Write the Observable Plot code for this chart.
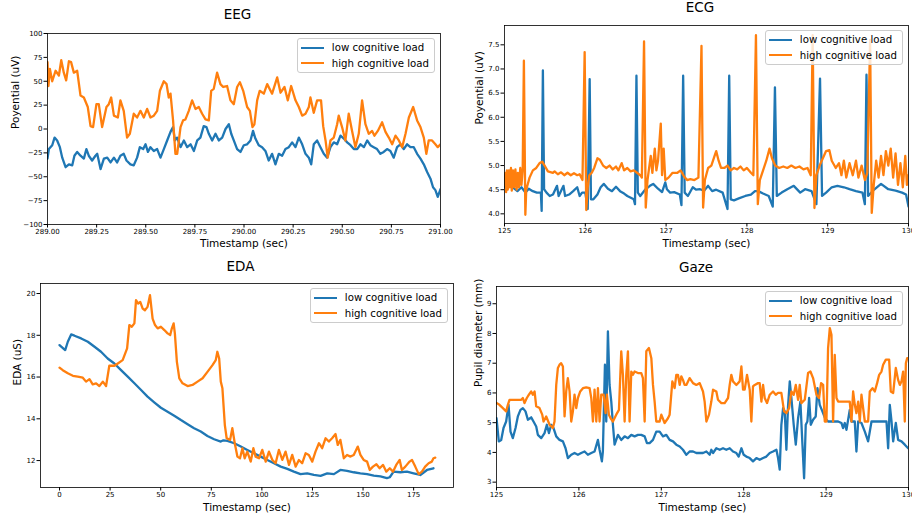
<!DOCTYPE html>
<html><head><meta charset="utf-8">
<script src="https://cdn.jsdelivr.net/npm/d3@7"></script>
<script src="https://cdn.jsdelivr.net/npm/@observablehq/plot@0.6"></script>
<style>
html,body{margin:0;padding:0;background:#fff;}
#fig{position:relative;width:912px;height:516px;overflow:hidden;background:#fff;font-family:"DejaVu Sans",sans-serif;}
.panel{position:absolute;}
.legend{position:absolute;background:rgba(255,255,255,0.8);border:1px solid #cccccc;border-radius:3px;font-size:10.2px;color:#000;padding:1px 5px 1px 3px;box-sizing:border-box;white-space:nowrap;}
.legend .row{display:flex;align-items:center;height:15.5px;}
.legend .sw{width:23px;height:2.3px;margin-right:8px;}
</style></head><body><div id="fig"></div>
<script>
const seriesNames = ["low cognitive load", "high cognitive load"];
const seriesColors = ["#1f77b4", "#ff7f0e"];

// ---------- EEG ----------
const eegXTicks = [289.00, 289.25, 289.50, 289.75, 290.00, 290.25, 290.50, 290.75, 291.00];
const eegYTicks = [-100, -75, -50, -25, 0, 25, 50, 75, 100];
const eegLow = [[289.000,-31],[289.007,-21],[289.024,-17],[289.036,-9],[289.049,-12],[289.063,-19],[289.075,-30],[289.092,-40],[289.109,-37],[289.126,-38],[289.137,-28],[289.151,-24],[289.168,-28],[289.185,-31],[289.198,-21],[289.210,-28],[289.227,-33],[289.244,-28],[289.253,-26],[289.270,-42],[289.287,-31],[289.304,-30],[289.321,-35],[289.338,-30],[289.354,-35],[289.371,-28],[289.388,-26],[289.402,-33],[289.422,-37],[289.439,-38],[289.456,-30],[289.470,-19],[289.487,-21],[289.499,-16],[289.511,-24],[289.524,-19],[289.541,-23],[289.558,-21],[289.575,-30],[289.592,-21],[289.609,-12],[289.626,-3],[289.639,2],[289.648,-12],[289.660,-9],[289.677,-19],[289.694,-12],[289.711,-19],[289.728,-16],[289.745,-23],[289.762,-12],[289.778,-9],[289.795,3],[289.809,2],[289.821,-5],[289.838,-12],[289.855,-5],[289.872,-12],[289.889,-9],[289.906,0],[289.923,5],[289.935,-5],[289.948,-12],[289.965,-21],[289.982,-24],[289.999,-17],[290.016,-16],[290.033,-12],[290.046,-2],[290.058,-10],[290.075,-17],[290.092,-19],[290.109,-23],[290.126,-33],[290.143,-26],[290.160,-37],[290.177,-26],[290.194,-28],[290.211,-21],[290.228,-19],[290.245,-14],[290.262,-19],[290.279,-9],[290.296,-16],[290.313,-26],[290.330,-30],[290.342,-37],[290.355,-16],[290.372,-12],[290.389,-19],[290.406,-26],[290.423,-30],[290.440,-19],[290.457,-14],[290.474,-16],[290.491,-7],[290.508,-10],[290.525,-14],[290.542,-17],[290.559,-21],[290.576,-21],[290.593,-16],[290.610,-19],[290.627,-12],[290.643,-17],[290.660,-19],[290.677,-21],[290.694,-26],[290.711,-24],[290.728,-21],[290.745,-23],[290.762,-30],[290.779,-19],[290.796,-16],[290.813,-21],[290.830,-16],[290.847,-19],[290.864,-19],[290.881,-26],[290.898,-31],[290.915,-37],[290.932,-45],[290.949,-52],[290.962,-61],[290.974,-64],[290.986,-71],[291.000,-63]];
const eegHigh = [[289.000,70],[289.005,45],[289.012,63],[289.024,50],[289.041,61],[289.058,56],[289.070,72],[289.083,59],[289.095,51],[289.109,71],[289.120,70],[289.134,59],[289.151,61],[289.168,35],[289.185,33],[289.205,23],[289.219,3],[289.232,2],[289.249,26],[289.261,26],[289.278,2],[289.300,23],[289.312,26],[289.324,33],[289.338,14],[289.358,12],[289.371,30],[289.388,19],[289.405,-9],[289.419,-5],[289.439,16],[289.456,12],[289.473,19],[289.490,12],[289.507,21],[289.524,12],[289.541,14],[289.558,19],[289.572,40],[289.592,50],[289.606,47],[289.617,33],[289.626,37],[289.639,9],[289.651,-26],[289.660,-26],[289.677,2],[289.690,9],[289.702,10],[289.719,19],[289.736,30],[289.753,21],[289.770,23],[289.787,16],[289.804,10],[289.821,9],[289.833,40],[289.846,42],[289.863,59],[289.880,47],[289.894,44],[289.914,45],[289.931,30],[289.948,26],[289.965,44],[289.979,49],[289.996,40],[290.016,23],[290.030,19],[290.043,2],[290.053,5],[290.067,30],[290.080,40],[290.101,37],[290.118,47],[290.143,37],[290.169,54],[290.186,38],[290.206,44],[290.223,30],[290.240,45],[290.262,30],[290.279,23],[290.296,14],[290.313,16],[290.330,23],[290.338,33],[290.355,17],[290.372,30],[290.392,30],[290.403,3],[290.415,-12],[290.426,-30],[290.440,-12],[290.457,-9],[290.474,5],[290.482,14],[290.499,2],[290.516,-12],[290.533,16],[290.550,-2],[290.567,-19],[290.584,-5],[290.601,30],[290.618,5],[290.635,-5],[290.652,-2],[290.664,-7],[290.681,-2],[290.703,7],[290.720,-3],[290.737,-9],[290.754,-16],[290.771,-7],[290.788,-12],[290.805,-19],[290.822,-5],[290.839,12],[290.861,23],[290.881,9],[290.898,2],[290.915,-9],[290.928,-26],[290.940,-12],[290.957,-12],[290.974,-16],[290.986,-19],[291.000,-16]];

// ---------- ECG ----------
const ecgXTicks = [125, 126, 127, 128, 129, 130];
const ecgYTicks = [4.0, 4.5, 5.0, 5.5, 6.0, 6.5, 7.0, 7.5];
const ecgLow = [[125.000,4.55],[125.010,4.78],[125.025,4.50],[125.060,4.58],[125.110,4.54],[125.160,4.47],[125.210,4.55],[125.260,4.44],[125.300,4.52],[125.350,4.47],[125.400,4.44],[125.450,4.44],[125.460,4.06],[125.475,6.97],[125.490,4.51],[125.520,4.44],[125.560,4.37],[125.600,4.40],[125.650,4.58],[125.670,4.37],[125.730,4.58],[125.750,4.37],[125.800,4.40],[125.850,4.47],[125.900,4.55],[125.930,4.37],[125.960,4.44],[126.000,4.44],[126.030,4.10],[126.054,6.79],[126.070,4.30],[126.100,4.30],[126.150,4.40],[126.190,4.55],[126.230,4.62],[126.280,4.52],[126.330,4.47],[126.380,4.56],[126.430,4.47],[126.480,4.42],[126.520,4.37],[126.600,4.30],[126.615,4.20],[126.633,6.86],[126.650,4.44],[126.680,4.37],[126.740,4.50],[126.800,4.58],[126.840,4.62],[126.900,4.52],[126.950,4.45],[126.990,4.65],[127.010,4.51],[127.050,4.44],[127.100,4.45],[127.170,4.40],[127.190,4.18],[127.211,6.86],[127.230,4.44],[127.270,4.37],[127.330,4.55],[127.370,4.50],[127.420,4.51],[127.470,4.48],[127.520,4.58],[127.570,4.47],[127.620,4.50],[127.700,4.44],[127.760,4.10],[127.781,6.86],[127.800,4.30],[127.840,4.28],[127.900,4.32],[127.980,4.37],[128.050,4.40],[128.100,4.47],[128.140,4.47],[128.200,4.42],[128.270,4.37],[128.320,4.15],[128.347,6.62],[128.370,4.37],[128.430,4.44],[128.500,4.51],[128.580,4.58],[128.660,4.44],[128.720,4.51],[128.800,4.47],[128.860,4.20],[128.905,6.80],[128.930,4.37],[128.980,4.44],[129.050,4.55],[129.120,4.58],[129.200,4.55],[129.270,4.51],[129.350,4.47],[129.430,4.44],[129.460,4.20],[129.480,6.88],[129.500,4.37],[129.560,4.48],[129.660,4.62],[129.750,4.51],[129.840,4.48],[129.920,4.44],[129.970,4.40],[130.000,4.15]];
const ecgHigh = [[125.000,4.60],[125.010,4.85],[125.020,4.45],[125.030,4.90],[125.040,4.50],[125.055,4.90],[125.065,4.55],[125.080,4.95],[125.090,4.48],[125.105,4.90],[125.120,4.55],[125.135,4.92],[125.150,4.50],[125.165,4.85],[125.180,4.55],[125.195,4.95],[125.210,4.60],[125.225,4.90],[125.240,7.17],[125.258,3.98],[125.269,4.50],[125.310,4.75],[125.351,4.90],[125.393,4.95],[125.434,5.05],[125.467,5.08],[125.496,5.00],[125.537,4.88],[125.599,4.85],[125.620,4.88],[125.660,4.82],[125.700,4.86],[125.740,4.80],[125.780,4.85],[125.820,4.80],[125.860,4.84],[125.900,4.80],[125.930,4.82],[125.965,4.70],[125.992,7.35],[126.012,4.08],[126.030,4.55],[126.050,4.80],[126.080,4.85],[126.110,4.95],[126.150,5.15],[126.180,5.12],[126.220,5.00],[126.260,4.95],[126.300,5.00],[126.340,4.92],[126.380,4.98],[126.410,4.90],[126.450,5.05],[126.480,4.90],[126.520,4.95],[126.560,4.88],[126.600,4.90],[126.640,4.85],[126.680,4.80],[126.700,4.75],[126.727,7.57],[126.748,4.13],[126.770,4.70],[126.790,4.95],[126.810,5.20],[126.830,4.85],[126.860,5.35],[126.880,4.90],[126.900,5.10],[126.934,5.87],[126.950,4.80],[126.970,5.35],[126.990,4.70],[127.030,4.75],[127.080,4.85],[127.140,4.85],[127.180,4.90],[127.220,4.78],[127.260,4.70],[127.300,4.72],[127.350,4.70],[127.400,4.75],[127.438,7.48],[127.458,4.13],[127.480,4.70],[127.520,4.95],[127.560,5.00],[127.600,5.20],[127.620,5.30],[127.650,5.10],[127.680,4.95],[127.720,4.95],[127.760,5.00],[127.800,4.90],[127.840,4.95],[127.880,4.92],[127.920,4.98],[127.960,4.90],[128.000,4.95],[128.050,4.85],[128.080,4.80],[128.112,7.70],[128.135,4.20],[128.160,4.70],[128.200,4.90],[128.240,5.10],[128.280,5.35],[128.310,5.15],[128.350,5.00],[128.400,4.95],[128.450,4.98],[128.500,4.95],[128.550,5.00],[128.600,4.95],[128.650,4.98],[128.700,4.92],[128.750,4.95],[128.790,4.80],[128.814,7.70],[128.836,4.12],[128.860,4.80],[128.900,5.00],[128.940,5.15],[128.980,5.30],[129.020,5.32],[129.050,5.10],[129.100,4.95],[129.140,5.05],[129.170,4.80],[129.200,5.10],[129.230,4.75],[129.270,5.05],[129.310,4.80],[129.350,5.10],[129.380,4.75],[129.420,5.00],[129.460,4.70],[129.490,4.85],[129.525,7.60],[129.545,4.02],[129.570,4.60],[129.600,5.10],[129.630,4.75],[129.660,5.20],[129.690,4.80],[129.720,5.30],[129.750,5.00],[129.780,5.35],[129.810,4.75],[129.840,5.25],[129.870,4.60],[129.900,5.05],[129.930,4.55],[129.960,5.20],[129.980,4.60],[130.000,4.80]];

// ---------- EDA ----------
const edaXTicks = [0, 25, 50, 75, 100, 125, 150, 175];
const edaYTicks = [12, 14, 16, 18, 20];
const edaLow = [[0.0,17.53],[2.8,17.29],[4.1,17.69],[5.75,18.04],[7.4,17.98],[10.7,17.85],[14.0,17.69],[17.3,17.45],[20.5,17.21],[23.8,16.89],[27.1,16.65],[30.4,16.33],[33.7,16.02],[37.0,15.70],[40.3,15.38],[43.5,15.06],[46.8,14.79],[50.1,14.53],[53.4,14.34],[56.7,14.15],[60.0,13.94],[63.3,13.74],[66.5,13.55],[69.8,13.39],[73.1,13.18],[76.4,13.02],[79.7,12.91],[81.0,12.97],[83.0,12.94],[86.3,12.83],[89.6,12.67],[92.8,12.51],[96.1,12.35],[99.4,12.19],[102.7,12.03],[106.0,11.87],[109.3,11.71],[112.6,11.60],[115.8,11.47],[119.1,11.35],[122.4,11.39],[125.7,11.31],[129.0,11.27],[132.3,11.39],[135.6,11.35],[138.8,11.55],[142.1,11.51],[145.4,11.44],[148.7,11.39],[152.0,11.35],[155.3,11.28],[158.6,11.24],[161.8,11.16],[163.2,11.20],[165.1,11.47],[168.4,11.44],[171.7,11.47],[175.0,11.39],[178.3,11.31],[181.6,11.55],[184.8,11.63]];
const edaHigh = [[0.0,16.45],[1.6,16.33],[4.1,16.18],[6.6,16.06],[9.0,16.02],[11.5,15.97],[13.1,15.78],[14.8,15.90],[16.4,15.65],[18.1,15.70],[19.7,15.57],[21.4,15.78],[23.0,15.57],[24.6,16.54],[27.1,16.54],[28.8,16.65],[31.2,16.81],[33.4,17.37],[34.5,18.49],[35.7,18.41],[37.0,18.57],[37.8,19.68],[38.9,19.52],[39.9,19.60],[41.1,19.28],[42.2,19.20],[43.5,19.36],[44.7,19.92],[46.0,18.80],[47.2,18.49],[48.5,18.33],[50.1,18.41],[51.8,18.25],[53.4,18.09],[54.7,18.01],[55.4,18.29],[56.4,18.57],[57.0,18.09],[58.0,16.73],[59.2,15.94],[60.8,15.70],[63.3,15.57],[65.7,15.62],[68.2,15.78],[70.7,15.94],[73.1,16.25],[75.6,16.57],[77.2,16.81],[78.0,17.21],[78.9,16.89],[79.7,15.78],[80.5,15.46],[81.7,13.70],[82.6,13.07],[84.3,12.99],[85.4,13.55],[86.6,12.83],[87.9,12.19],[89.2,12.11],[90.4,12.59],[91.5,12.11],[92.8,12.43],[94.5,11.95],[95.8,12.59],[96.9,12.19],[98.6,12.11],[100.2,12.51],[101.9,11.95],[103.5,12.43],[105.2,12.03],[106.8,11.87],[108.4,12.51],[110.1,12.03],[111.7,12.43],[113.4,11.79],[115.0,12.27],[116.7,11.71],[118.3,12.03],[119.9,11.87],[121.6,12.35],[123.2,12.27],[124.9,11.95],[126.5,12.43],[128.2,12.83],[129.8,12.59],[131.5,13.07],[133.1,12.91],[134.7,13.07],[136.4,13.27],[137.5,12.75],[138.8,12.99],[140.5,12.11],[142.1,12.27],[143.8,12.19],[145.4,12.27],[147.4,12.67],[148.7,12.27],[150.3,12.03],[152.0,11.95],[153.3,11.55],[154.9,11.71],[156.6,11.82],[158.2,11.63],[159.9,11.79],[161.5,11.47],[163.2,11.63],[164.8,11.47],[166.4,11.79],[168.1,12.03],[169.2,11.55],[170.9,11.71],[173.0,11.95],[174.2,12.03],[175.8,11.71],[177.5,11.35],[179.1,11.47],[180.7,11.71],[182.4,11.87],[184.0,11.95],[184.8,12.11],[185.7,12.14]];

// ---------- Gaze ----------
const gazeXTicks = [125, 126, 127, 128, 129, 130];
const gazeYTicks = [3, 4, 5, 6, 7, 8, 9];
const gazeLow = [[125.000,5.15],[125.028,4.37],[125.057,4.42],[125.085,4.82],[125.117,5.04],[125.146,5.60],[125.170,4.70],[125.198,4.48],[125.231,4.82],[125.259,5.21],[125.291,5.43],[125.320,5.49],[125.352,5.38],[125.381,5.10],[125.421,5.18],[125.449,5.04],[125.482,4.87],[125.502,4.59],[125.543,4.48],[125.583,4.65],[125.611,4.93],[125.636,4.65],[125.664,4.93],[125.692,4.82],[125.725,4.54],[125.765,4.42],[125.806,4.37],[125.838,4.14],[125.866,3.81],[125.907,3.92],[125.947,3.98],[125.988,3.92],[126.028,3.98],[126.069,4.03],[126.109,3.92],[126.150,3.98],[126.190,4.03],[126.231,4.42],[126.251,4.09],[126.279,3.70],[126.291,4.03],[126.316,6.95],[126.332,5.04],[126.352,8.07],[126.372,6.27],[126.393,5.71],[126.413,4.93],[126.433,4.26],[126.453,4.42],[126.474,4.59],[126.514,4.42],[126.555,4.54],[126.595,4.48],[126.636,4.59],[126.676,4.54],[126.717,4.59],[126.757,4.59],[126.798,4.54],[126.826,4.31],[126.858,4.31],[126.899,4.42],[126.939,4.70],[126.980,4.70],[127.020,4.54],[127.061,4.59],[127.101,4.42],[127.142,4.37],[127.182,4.26],[127.223,4.20],[127.263,4.09],[127.304,3.92],[127.344,4.03],[127.385,4.03],[127.425,3.98],[127.466,3.98],[127.506,3.98],[127.547,4.03],[127.587,3.92],[127.607,4.09],[127.628,3.98],[127.668,4.14],[127.709,4.09],[127.749,4.14],[127.789,4.09],[127.830,4.14],[127.870,4.03],[127.911,3.98],[127.939,3.86],[127.972,4.14],[128.000,3.92],[128.032,3.86],[128.073,3.81],[128.113,3.70],[128.154,3.81],[128.194,3.75],[128.235,3.81],[128.275,3.86],[128.316,3.98],[128.356,4.03],[128.397,4.09],[128.417,3.81],[128.437,3.42],[128.457,4.93],[128.478,5.49],[128.498,5.38],[128.518,4.09],[128.538,5.55],[128.559,6.39],[128.579,5.83],[128.607,4.93],[128.632,4.26],[128.660,5.15],[128.688,5.71],[128.713,4.26],[128.733,3.13],[128.753,4.93],[128.773,5.04],[128.794,5.83],[128.814,4.93],[128.842,5.10],[128.874,5.21],[128.895,6.16],[128.923,5.60],[128.955,5.38],[128.988,5.15],[129.024,5.04],[129.065,5.04],[129.105,5.04],[129.146,5.04],[129.186,4.99],[129.206,4.82],[129.227,4.99],[129.247,4.76],[129.287,5.43],[129.308,5.04],[129.348,5.04],[129.368,4.03],[129.389,5.04],[129.429,4.99],[129.470,4.70],[129.510,4.37],[129.551,5.04],[129.611,5.04],[129.672,5.04],[129.733,5.04],[129.753,4.14],[129.773,5.60],[129.794,5.04],[129.814,4.37],[129.846,4.99],[129.874,4.42],[129.915,4.37],[129.955,4.26],[129.996,4.14]];
const gazeHigh = [[125.000,5.66],[125.036,5.60],[125.077,5.49],[125.117,5.38],[125.138,5.60],[125.158,5.77],[125.239,5.77],[125.300,5.77],[125.320,5.83],[125.340,5.66],[125.368,5.83],[125.393,5.94],[125.421,6.05],[125.441,5.94],[125.462,6.05],[125.482,5.55],[125.522,5.49],[125.555,5.27],[125.571,5.04],[125.603,5.21],[125.644,4.93],[125.684,4.82],[125.704,5.04],[125.725,6.27],[125.745,6.84],[125.765,6.95],[125.785,7.00],[125.806,6.89],[125.826,5.21],[125.846,6.05],[125.866,6.50],[125.887,6.05],[125.907,5.04],[125.927,5.38],[125.947,5.94],[125.968,5.49],[125.988,5.83],[126.016,6.05],[126.049,6.16],[126.089,6.19],[126.130,6.16],[126.150,5.83],[126.170,5.04],[126.190,6.11],[126.211,5.04],[126.231,6.16],[126.251,5.04],[126.271,5.94],[126.300,5.94],[126.324,5.32],[126.340,5.94],[126.364,5.27],[126.385,5.15],[126.413,5.04],[126.453,5.27],[126.486,5.43],[126.514,7.40],[126.534,6.61],[126.555,5.04],[126.575,6.61],[126.595,7.40],[126.615,5.04],[126.636,6.72],[126.656,6.61],[126.676,6.72],[126.717,6.67],[126.757,6.67],[126.777,6.50],[126.798,5.04],[126.818,7.40],[126.850,7.51],[126.879,7.17],[126.899,6.27],[126.919,5.71],[126.939,5.04],[126.980,5.04],[127.000,5.27],[127.040,4.99],[127.081,5.15],[127.101,5.27],[127.134,6.39],[127.162,6.16],[127.182,6.61],[127.202,6.61],[127.223,6.27],[127.243,6.56],[127.263,6.44],[127.283,6.27],[127.304,6.27],[127.344,6.50],[127.385,6.33],[127.425,6.27],[127.466,6.33],[127.506,6.05],[127.526,5.71],[127.547,5.04],[127.579,5.27],[127.607,5.71],[127.628,6.11],[127.668,6.05],[127.688,5.77],[127.729,5.66],[127.769,5.66],[127.810,5.83],[127.830,6.27],[127.850,6.61],[127.870,6.39],[127.911,6.27],[127.951,6.39],[127.972,6.89],[127.992,6.11],[128.012,6.11],[128.040,6.61],[128.073,6.11],[128.093,5.04],[128.113,6.22],[128.134,6.27],[128.174,6.33],[128.194,6.33],[128.215,5.71],[128.235,6.27],[128.255,5.83],[128.283,5.66],[128.316,5.94],[128.356,6.05],[128.389,5.94],[128.417,6.00],[128.457,6.00],[128.490,5.38],[128.518,5.32],[128.551,5.49],[128.579,6.05],[128.607,5.94],[128.632,6.27],[128.660,5.77],[128.680,6.27],[128.700,5.66],[128.741,5.77],[128.781,6.67],[128.810,6.72],[128.842,6.50],[128.883,5.94],[128.915,5.83],[128.939,6.33],[128.964,6.27],[128.984,5.04],[129.004,5.04],[129.024,7.51],[129.045,8.18],[129.065,7.96],[129.085,5.04],[129.105,7.28],[129.126,5.83],[129.146,5.71],[129.206,5.71],[129.247,5.71],[129.287,5.71],[129.308,5.04],[129.328,6.05],[129.348,5.60],[129.368,5.32],[129.389,5.71],[129.409,5.04],[129.429,5.94],[129.470,5.04],[129.510,5.04],[129.530,6.05],[129.563,6.16],[129.591,6.05],[129.619,6.33],[129.644,6.61],[129.672,6.72],[129.692,6.95],[129.725,7.12],[129.765,7.12],[129.785,6.05],[129.814,6.00],[129.846,6.84],[129.874,6.44],[129.895,6.27],[129.915,6.39],[129.935,6.72],[129.955,5.04],[129.968,7.00],[129.984,7.17],[129.996,7.17]];

const panels = [
  {title: "EEG", xlabel: "Timestamp (sec)", ylabel: "Poyential (uV)", low: eegLow, high: eegHigh,
   box: {left: 0, top: 0, width: 456, height: 258}, frame: {l: 47, t: 33, r: 440, b: 224},
   xDomain: [289, 291], yDomain: [-100, 100], xTicks: eegXTicks, yTicks: eegYTicks,
   xFmt: d3.format(".2f"), yFmt: d3.format("d"), titleDy: 15, xlabelDy: 22.5, ylabelDx: 29},
  {title: "ECG", xlabel: "Timestamp (sec)", ylabel: "Poyential (uV)", low: ecgLow, high: ecgHigh,
   box: {left: 456, top: 0, width: 470, height: 258}, frame: {l: 504, t: 25, r: 908, b: 223},
   xDomain: [125, 130], yDomain: [3.80, 7.90], xTicks: ecgXTicks, yTicks: ecgYTicks,
   xFmt: d3.format("d"), yFmt: d3.format(".1f"), titleDy: 14, xlabelDy: 23, ylabelDx: 21.5},
  {title: "EDA", xlabel: "Timestamp (sec)", ylabel: "EDA (uS)", low: edaLow, high: edaHigh,
   box: {left: 0, top: 258, width: 456, height: 258}, frame: {l: 40, t: 283, r: 453, b: 487},
   xDomain: [-9.4, 194.7], yDomain: [10.71, 20.48], xTicks: edaXTicks, yTicks: edaYTicks,
   xFmt: d3.format("d"), yFmt: d3.format("d"), titleDy: 12.5, xlabelDy: 23.5, ylabelDx: 19.5},
  {title: "Gaze", xlabel: "Timestamp (sec)", ylabel: "Pupil diameter (mm)", low: gazeLow, high: gazeHigh,
   box: {left: 456, top: 258, width: 470, height: 258}, frame: {l: 496, t: 286, r: 908, b: 487},
   xDomain: [125, 130], yDomain: [2.82, 9.58], xTicks: gazeXTicks, yTicks: gazeYTicks,
   xFmt: d3.format("d"), yFmt: d3.format("d"), titleDy: 15, xlabelDy: 23.5, ylabelDx: 15}
];

const fig = document.getElementById("fig");
for (const p of panels) {
  const {box, frame} = p;
  const svg = Plot.plot({
    width: box.width, height: box.height,
    marginLeft: frame.l - box.left, marginTop: frame.t - box.top,
    marginRight: box.left + box.width - frame.r, marginBottom: box.top + box.height - frame.b,
    style: {background: "transparent", overflow: "visible", maxWidth: "none", fontFamily: "DejaVu Sans, sans-serif", fontSize: "7px", color: "#000"},
    x: {domain: p.xDomain},
    y: {domain: p.yDomain},
    marks: [
      Plot.line(p.low, {x: d => d[0], y: d => d[1], stroke: seriesColors[0], strokeWidth: 2.3, clip: true}),
      Plot.line(p.high, {x: d => d[0], y: d => d[1], stroke: seriesColors[1], strokeWidth: 2.3, clip: true}),
      Plot.frame({stroke: "#000", strokeWidth: 0.8}),
      Plot.axisX({ticks: p.xTicks, tickFormat: p.xFmt, tickSize: 3.5, tickPadding: 1, label: null}),
      Plot.axisY({ticks: p.yTicks, tickFormat: p.yFmt, tickSize: 3.5, tickPadding: 1.5, label: null}),
      Plot.text([p.title], {text: d => d, frameAnchor: "top", dy: -p.titleDy, dx: -6.5, lineAnchor: "bottom", fontSize: 13.5, fill: "#000"}),
      Plot.text([p.xlabel], {text: d => d, frameAnchor: "bottom", dy: p.xlabelDy, lineAnchor: "bottom", fontSize: 10.5, fill: "#000"}),
      Plot.text([p.ylabel], {text: d => d, frameAnchor: "left", dx: -p.ylabelDx, rotate: -90, lineAnchor: "bottom", fontSize: 10.5, fill: "#000"})
    ]
  });
  svg.classList.add("panel");
  svg.style.left = box.left + "px";
  svg.style.top = box.top + "px";
  fig.appendChild(svg);

  const lg = document.createElement("div");
  lg.className = "legend";
  lg.style.right = (912 - frame.r + 5) + "px";
  lg.style.top = (frame.t + 5) + "px";
  seriesNames.forEach((name, i) => {
    const row = document.createElement("div");
    row.className = "row";
    const sw = document.createElement("span");
    sw.className = "sw";
    sw.style.background = seriesColors[i];
    const tx = document.createElement("span");
    tx.textContent = name;
    row.appendChild(sw); row.appendChild(tx);
    lg.appendChild(row);
  });
  fig.appendChild(lg);
}
</script></body></html>
